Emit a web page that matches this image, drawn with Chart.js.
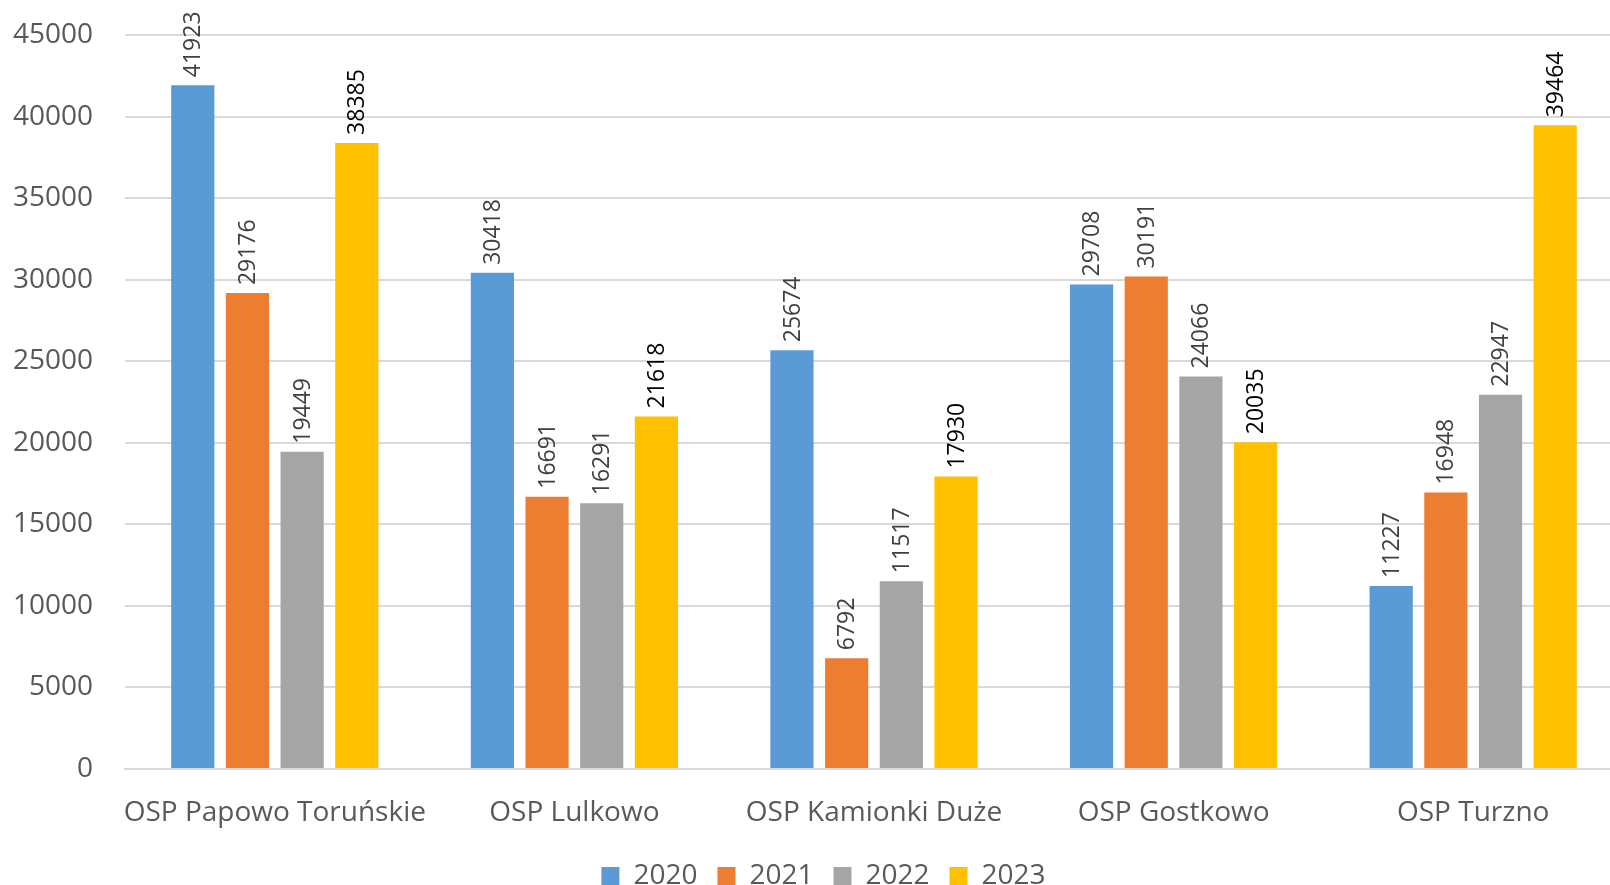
<!DOCTYPE html>
<html>
<head>
<meta charset="utf-8">
<script src="https://cdn.jsdelivr.net/npm/chart.js@4"></script>
<style>
  html, body { margin: 0; padding: 0; background: #fff; overflow: hidden; }
  /* the original plot runs a little past the right and bottom edges */
  #wrap { width: 1623px; height: 890px; position: relative; }
</style>
</head>
<body>
<div id="wrap"><canvas id="myChart"></canvas></div>
<script>
// chart data
var categories = ["OSP Papowo Toruńskie", "OSP Lulkowo", "OSP Kamionki Duże", "OSP Gostkowo", "OSP Turzno"];
var years = ["2020", "2021", "2022", "2023"];
var values2020 = [41923, 30418, 25674, 29708, 11227];
var values2021 = [29176, 16691, 6792, 30191, 16948];
var values2022 = [19449, 16291, 11517, 24066, 22947];
var values2023 = [38385, 21618, 17930, 20035, 39464];
var yTicks = [0, 5000, 10000, 15000, 20000, 25000, 30000, 35000, 40000, 45000];

var colors = ['#5B9BD5', '#ED7D31', '#A5A5A5', '#FFC000'];
var labelColors = ['#404040', '#404040', '#404040', '#000000'];
var FONT = "'Open Sans', 'Liberation Sans', sans-serif";

// rotated value labels above each bar
var barLabels = {
  id: 'barLabels',
  afterDatasetsDraw: function(chart) {
    var ctx = chart.ctx;
    chart.data.datasets.forEach(function(ds, i) {
      var meta = chart.getDatasetMeta(i);
      meta.data.forEach(function(bar, j) {
        ctx.save();
        ctx.translate(bar.x, bar.y - 8);
        ctx.rotate(-Math.PI / 2);
        ctx.font = '23px ' + FONT;
        ctx.fillStyle = labelColors[i];
        ctx.textAlign = 'left';
        ctx.textBaseline = 'middle';
        ctx.fillText(String(ds.data[j]), 0, 1);
        ctx.restore();
      });
    });
  }
};

// legend sits a bit right of centre, like the original
var legendShift = {
  id: 'legendShift',
  afterLayout: function(chart) {
    chart.legend.left += 6;
    chart.legend.right += 6;
  }
};

var allValues = [values2020, values2021, values2022, values2023];

var ctx = document.getElementById('myChart').getContext('2d');
var chart = new Chart(ctx, {
  type: 'bar',
  data: {
    labels: categories,
    datasets: years.map(function(y, i) {
      return {
        label: y,
        data: allValues[i],
        backgroundColor: colors[i],
        borderWidth: 0,
        barPercentage: 0.79,
        categoryPercentage: 0.73
      };
    })
  },
  options: {
    responsive: true,
    maintainAspectRatio: false,
    animation: false,
    devicePixelRatio: 1,
    layout: { padding: { left: 12, right: 0, top: 35, bottom: -10 } },
    plugins: {
      tooltip: { enabled: false },
      legend: {
        position: 'bottom',
        labels: {
          font: { family: FONT, size: 28 },
          color: '#595959',
          boxWidth: 18,
          boxHeight: 18,
          padding: 20
        }
      }
    },
    scales: {
      x: {
        grid: { display: false, drawTicks: false },
        border: { display: true, color: '#D9D9D9', width: 2 },
        ticks: {
          font: { family: FONT, size: 28 },
          color: '#595959',
          padding: 27,
          maxRotation: 0,
          autoSkip: false
        },
        afterFit: function(scale) {
          scale.height = 73;
          scale.paddingLeft = 0;
          scale.paddingRight = 0;
        }
      },
      y: {
        min: 0,
        max: 45000,
        afterBuildTicks: function(axis) {
          axis.ticks = yTicks.map(function(v) { return { value: v }; });
        },
        grid: { color: '#D9D9D9', lineWidth: 2, drawTicks: false },
        border: { display: false },
        ticks: {
          font: { family: FONT, size: 28 },
          color: '#595959',
          padding: 32,
          callback: function(v) { return String(v); }
        },
        afterFit: function(scale) {
          scale.width = 113;
          scale.paddingTop = 0;
          scale.paddingBottom = 0;
        }
      }
    }
  },
  plugins: [barLabels, legendShift]
});
</script>
</body>
</html>
